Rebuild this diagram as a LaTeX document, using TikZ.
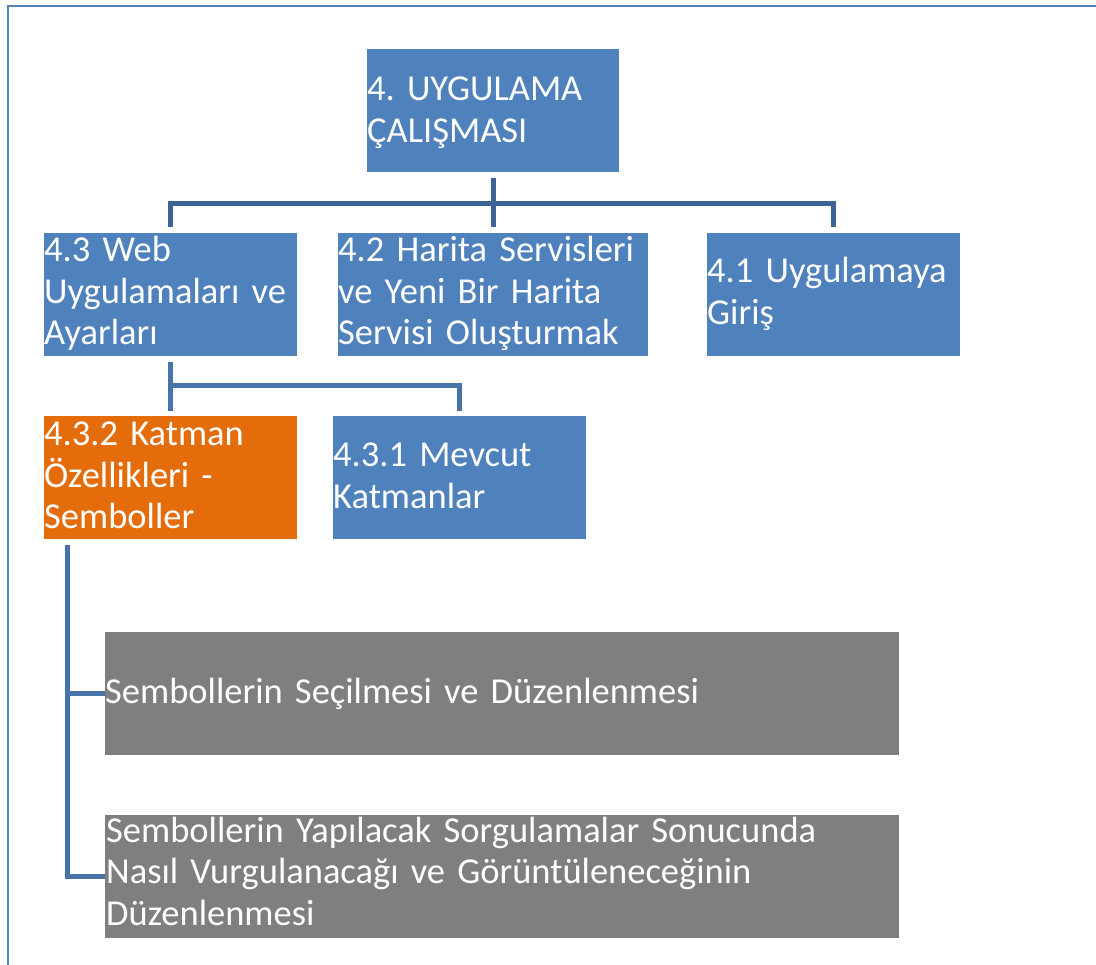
\documentclass[tikz,border=0pt]{standalone}
\usepackage{fontspec}
\setmainfont{Carlito}
\usetikzlibrary{calc}
\frenchspacing

\definecolor{accentblue}{RGB}{79,129,189}
\definecolor{accentorange}{RGB}{228,108,10}
\definecolor{boxgray}{RGB}{127,127,127}
\definecolor{linkdark}{RGB}{62,100,150}
\definecolor{linkmid}{RGB}{72,116,170}
\definecolor{framecol}{RGB}{84,132,192}

\begin{document}
\begin{tikzpicture}[x=1pt,y=-1pt,
  box/.style={rectangle, inner sep=0pt, outer sep=0pt, anchor=north west},
  bluebox/.style={box, fill=accentblue},
  orangebox/.style={box, fill=accentorange},
  graybox/.style={box, fill=boxgray},
  txt/.style={text=white, font=\fontsize{36.5}{41.5}\selectfont, inner sep=0pt,
              anchor=base west, align=left, text width=820pt},
  link/.style={line width=5pt, draw=linkdark, line join=miter, line cap=butt},
  linksub/.style={line width=5pt, draw=linkmid, line join=miter, line cap=butt}]

\useasboundingbox (0,0) rectangle (1096,965);

% outer frame (only top and left edges fall inside the page)
\draw[framecol, line width=2pt] (8,965) -- (8,6) -- (1096,6);

% boxes
\node[bluebox, minimum width=252pt, minimum height=123pt] (top)  at (367,49)  {};
\node[bluebox, minimum width=253pt, minimum height=123pt] (l43)  at (44,233)  {};
\node[bluebox, minimum width=310pt, minimum height=123pt] (l42)  at (338,233) {};
\node[bluebox, minimum width=253pt, minimum height=123pt] (l41)  at (707,233) {};
\node[orangebox, minimum width=253pt, minimum height=123pt] (l432) at (44,416) {};
\node[bluebox, minimum width=253pt, minimum height=123pt] (l431) at (333,416) {};
\node[graybox, minimum width=794pt, minimum height=123pt] (g1)   at (105,632) {};
\node[graybox, minimum width=794pt, minimum height=123pt] (g2)   at (105,815) {};

% box texts
\node[txt] (ttop)  at (367,101) {4. UYGULAMA\\ÇALIŞMASI};
\node[txt] (tl43)  at (44,262)  {4.3 Web\\Uygulamaları ve\\Ayarları};
\node[txt] (tl42)  at (338,262) {4.2 Harita Servisleri\\ve Yeni Bir Harita\\Servisi Oluşturmak};
\node[txt] (tl41)  at (707,283) {4.1 Uygulamaya\\Giriş};
\node[txt] (tl432) at (44,446)  {4.3.2 Katman\\Özellikleri -\\Semboller};
\node[txt] (tl431) at (333,467) {4.3.1 Mevcut\\Katmanlar};
\node[txt] (tg1)   at (105,703) {Sembollerin Seçilmesi ve Düzenlenmesi};
\node[txt] (tg2)   at (106,842) {Sembollerin Yapılacak Sorgulamalar Sonucunda\\Nasıl Vurgulanacağı ve Görüntüleneceğinin\\Düzenlenmesi};

% first level connectors
\draw[link] ([yshift=-6pt]top.south) -- ([yshift=6pt]l42.north);
\draw[link] ([yshift=6pt]l43.north) -- ++(0,-23.5) -| ([yshift=6pt]l41.north);

% second level connectors
\draw[linksub] ([yshift=-6pt]l43.south) -- ([yshift=5pt]l432.north);
\draw[linksub] ([yshift=-30pt]l43.south) -| ([yshift=5pt]l431.north);

% third level connectors
\coordinate (trunk) at ([xshift=23.5pt,yshift=-6pt]l432.south west);
\draw[linksub] (trunk) |- (g2.west);
\draw[linksub] (trunk |- g1.west) -- (g1.west);

\end{tikzpicture}
\end{document}
